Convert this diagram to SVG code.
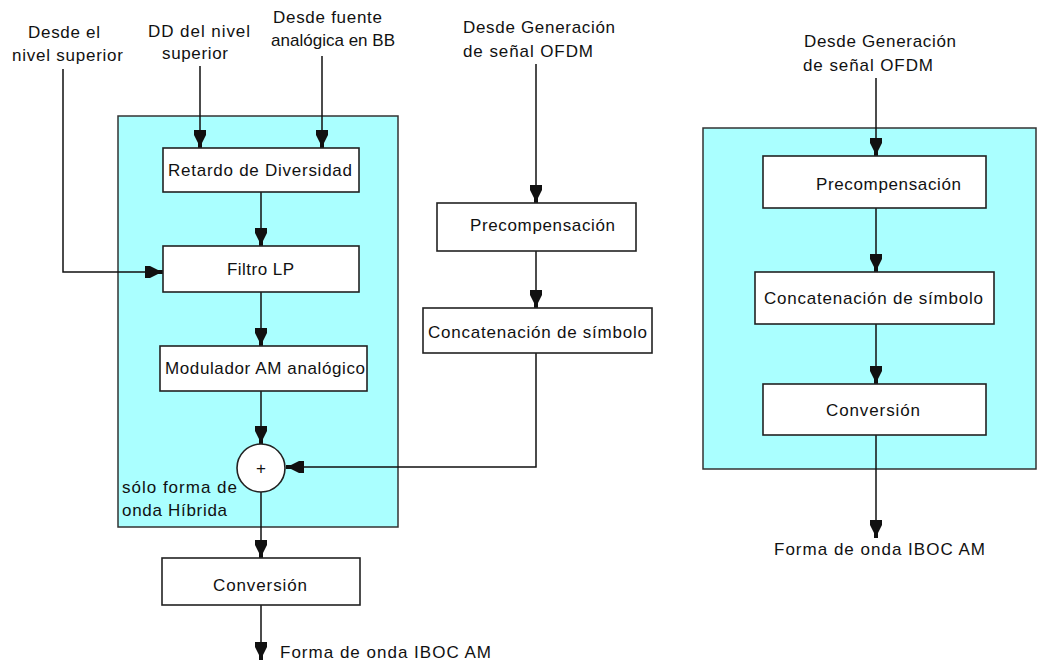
<svg xmlns="http://www.w3.org/2000/svg" width="1037" height="662" viewBox="0 0 1037 662">
  <style>
    .panel { fill: #AAFFFF; stroke: #333; stroke-width: 1.5; }
    .box { fill: #fff; stroke: #222; stroke-width: 1.6; }
    .lbl { font-family: "Liberation Sans", Arial, sans-serif; font-size: 17px; fill: #111; }
    .wire { fill: none; stroke: #111; stroke-width: 1.5; }
    .arr { marker-end: url(#head); }
  </style>
  <defs>
    <!-- block arrowhead: wide bar tapering to a short stem at the tip -->
    <marker id="head" markerUnits="userSpaceOnUse" markerWidth="20" markerHeight="14" viewBox="-19 -7 20 14" refX="0" refY="0" orient="auto">
      <path d="M-18,-6 L-13,-6 L-5,-2 L0,-2 L0,2 L-5,2 L-13,6 L-18,6 Z" fill="#111"/>
    </marker>
  </defs>

  <!-- shaded grouping panels -->
  <rect id="panel-hybrid" class="panel" x="118" y="116" width="280" height="411"/>
  <rect id="panel-digital" class="panel" x="703" y="128" width="333" height="341"/>

  <!-- connectors -->
  <g id="connectors">
    <polyline class="wire arr" points="63,69 63,272 163,272"/>
    <line class="wire arr" x1="200" y1="66" x2="200" y2="148"/>
    <line class="wire arr" x1="322" y1="56" x2="322" y2="148"/>
    <line class="wire arr" x1="261" y1="192" x2="261" y2="246"/>
    <line class="wire arr" x1="261" y1="292" x2="261" y2="346"/>
    <line class="wire arr" x1="261" y1="391" x2="261" y2="444"/>
    <line class="wire arr" x1="261" y1="492" x2="261" y2="558"/>
    <line class="wire arr" x1="261" y1="605" x2="261" y2="660"/>
    <line class="wire arr" x1="536" y1="64" x2="536" y2="203"/>
    <line class="wire arr" x1="536" y1="251" x2="536" y2="308"/>
    <polyline class="wire arr" points="536,353 536,467 286,467"/>
    <line class="wire arr" x1="876" y1="78" x2="876" y2="156"/>
    <line class="wire arr" x1="876" y1="208" x2="876" y2="272"/>
    <line class="wire arr" x1="876" y1="324" x2="876" y2="384"/>
    <line class="wire arr" x1="876" y1="435" x2="876" y2="538"/>
  </g>

  <!-- input / output labels -->
  <g id="label-upper-level">
    <text class="lbl" x="28" y="38" textLength="72" lengthAdjust="spacing">Desde el</text>
    <text class="lbl" x="12" y="61" textLength="111" lengthAdjust="spacing">nivel superior</text>
  </g>
  <g id="label-dd">
    <text class="lbl" x="148" y="37" textLength="102" lengthAdjust="spacing">DD del nivel</text>
    <text class="lbl" x="162" y="59" textLength="66" lengthAdjust="spacing">superior</text>
  </g>
  <g id="label-analog-source">
    <text class="lbl" x="273" y="23" textLength="109" lengthAdjust="spacing">Desde fuente</text>
    <text class="lbl" x="271" y="46" textLength="124" lengthAdjust="spacing">analógica en BB</text>
  </g>
  <g id="label-ofdm-mid">
    <text class="lbl" x="463" y="33" textLength="152" lengthAdjust="spacing">Desde Generación</text>
    <text class="lbl" x="463" y="57" textLength="130" lengthAdjust="spacing">de señal OFDM</text>
  </g>
  <g id="label-ofdm-right">
    <text class="lbl" x="804" y="47" textLength="152" lengthAdjust="spacing">Desde Generación</text>
    <text class="lbl" x="803" y="71" textLength="130" lengthAdjust="spacing">de señal OFDM</text>
  </g>
  <g id="label-hybrid-only">
    <text class="lbl" x="122" y="493" textLength="115" lengthAdjust="spacing">sólo forma de</text>
    <text class="lbl" x="122" y="516" textLength="105" lengthAdjust="spacing">onda Híbrida</text>
  </g>
  <g id="label-out-left">
    <text class="lbl" x="280" y="658" textLength="211" lengthAdjust="spacing">Forma de onda IBOC AM</text>
  </g>
  <g id="label-out-right">
    <text class="lbl" x="774" y="555" textLength="211" lengthAdjust="spacing">Forma de onda IBOC AM</text>
  </g>

  <!-- hybrid chain -->
  <g id="node-retardo">
    <rect class="box" x="163" y="148" width="196" height="44"/>
    <text class="lbl" x="168" y="176" textLength="184" lengthAdjust="spacing">Retardo de Diversidad</text>
  </g>
  <g id="node-filtro">
    <rect class="box" x="163" y="246" width="196" height="46"/>
    <text class="lbl" x="227" y="275" textLength="67" lengthAdjust="spacing">Filtro LP</text>
  </g>
  <g id="node-modulador">
    <rect class="box" x="160" y="346" width="207" height="45"/>
    <text class="lbl" x="165" y="374" textLength="200" lengthAdjust="spacing">Modulador AM analógico</text>
  </g>
  <g id="node-sum">
    <circle class="box" cx="261" cy="468" r="24"/>
    <text class="lbl" x="261" y="474" text-anchor="middle" font-size="15">+</text>
  </g>
  <g id="node-conversion-left">
    <rect class="box" x="162" y="558" width="198" height="47"/>
    <text class="lbl" x="213" y="591" textLength="94" lengthAdjust="spacing">Conversión</text>
  </g>

  <!-- OFDM chain (middle) -->
  <g id="node-precomp-mid">
    <rect class="box" x="437" y="203" width="199" height="48"/>
    <text class="lbl" x="470" y="231" textLength="145" lengthAdjust="spacing">Precompensación</text>
  </g>
  <g id="node-concat-mid">
    <rect class="box" x="423" y="308" width="229" height="45"/>
    <text class="lbl" x="428" y="338" textLength="219" lengthAdjust="spacing">Concatenación de símbolo</text>
  </g>

  <!-- all-digital chain (right) -->
  <g id="node-precomp-right">
    <rect class="box" x="763" y="156" width="223" height="52"/>
    <text class="lbl" x="816" y="190" textLength="145" lengthAdjust="spacing">Precompensación</text>
  </g>
  <g id="node-concat-right">
    <rect class="box" x="755" y="272" width="239" height="52"/>
    <text class="lbl" x="764" y="304" textLength="219" lengthAdjust="spacing">Concatenación de símbolo</text>
  </g>
  <g id="node-conversion-right">
    <rect class="box" x="763" y="384" width="223" height="51"/>
    <text class="lbl" x="826" y="416" textLength="94" lengthAdjust="spacing">Conversión</text>
  </g>
</svg>
